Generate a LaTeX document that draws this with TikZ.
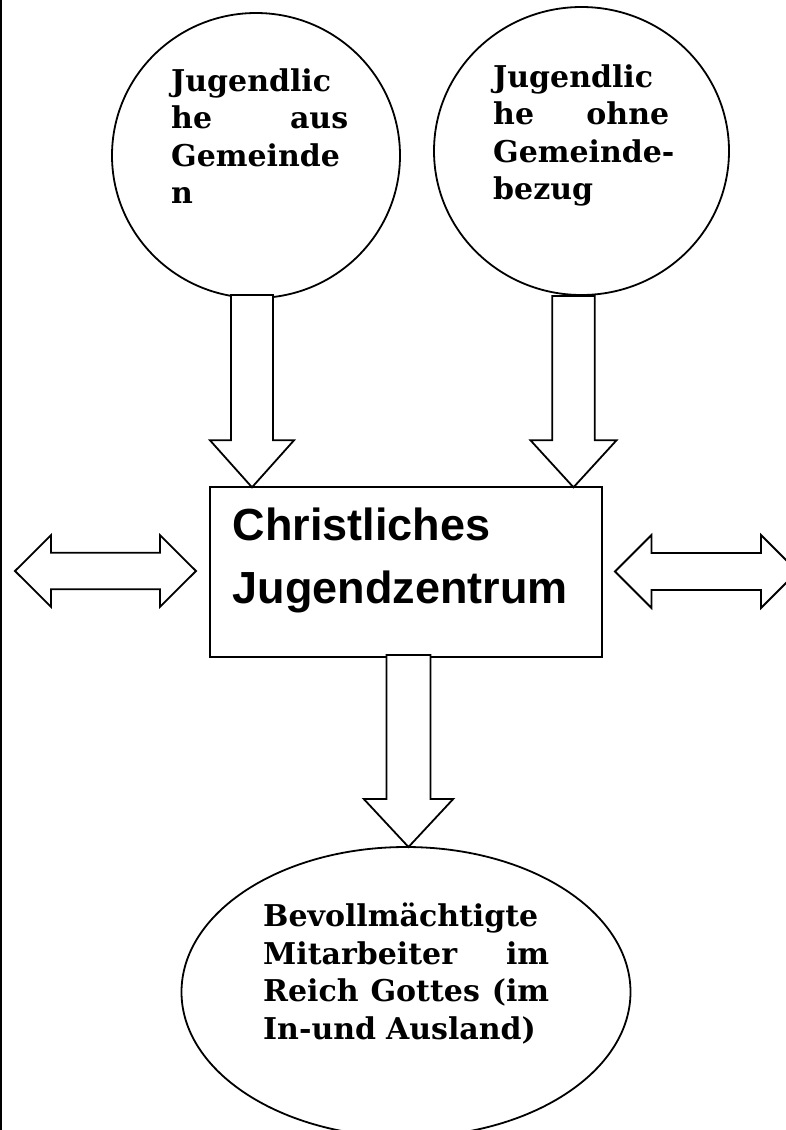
\documentclass[tikz,border=0pt]{standalone}
\usepackage{fontspec}
\setmainfont{DejaVu Serif}
\newfontfamily\boxfont{Liberation Sans}
\usetikzlibrary{shapes.geometric,calc}
\tikzset{
  outline/.style={draw=black, line width=1.8pt},
  roundshape/.style={outline, ellipse, inner sep=0pt, fill=white},
  sertext/.style={inner sep=0pt, anchor=base west, align=left,
    font=\bfseries\fontsize{30}{37.5}\selectfont},
  blk/.style={draw=black, line width=1.8pt, fill=white, line join=miter},
}
% downward block arrow: #1 tail, #2 tip, #3 half shaft, #4 half head, #5 head length
\newcommand{\blkdown}[5]{%
  \draw[blk] ($(#1)+(-#3,0)$) -- ($(#2)+(-#3,-#5)$) -- ($(#2)+(-#4,-#5)$) -- (#2)
    -- ($(#2)+(#4,-#5)$) -- ($(#2)+(#3,-#5)$) -- ($(#1)+(#3,0)$) -- cycle;}
% horizontal double block arrow: #1 left tip, #2 right tip, #3 half shaft, #4 half head, #5 head length
\newcommand{\blkdouble}[5]{%
  \draw[blk] (#1) -- ($(#1)+(#5,-#4)$) -- ($(#1)+(#5,-#3)$) -- ($(#2)+(-#5,-#3)$)
    -- ($(#2)+(-#5,-#4)$) -- (#2) -- ($(#2)+(-#5,#4)$) -- ($(#2)+(-#5,#3)$)
    -- ($(#1)+(#5,#3)$) -- ($(#1)+(#5,#4)$) -- cycle;}
\begin{document}
\begin{tikzpicture}[x=1pt,y=-1pt]
\useasboundingbox (0,0) rectangle (786,1130);
% left border line
\draw[line width=2pt] (1,0) -- (1,1130);
% shapes
\node[roundshape, minimum width=288pt, minimum height=285pt] (c1) at (256,155.5) {};
\node[roundshape, minimum width=295pt, minimum height=288pt] (c2) at (581.5,151) {};
\node[roundshape, minimum width=449pt, minimum height=290pt] (c3) at (406,992) {};
\node[outline, fill=white, inner sep=0pt, minimum width=392pt, minimum height=169.4pt] (box) at (406,572) {};
% arrow coordinates
\coordinate (a1s) at (252,295);
\coordinate (a1t) at (252,487.3);
\coordinate (a2s) at (573.5,296);
\coordinate (a2t) at (573.5,487.3);
\coordinate (a3s) at (408.5,655);
\coordinate (a3t) at (408.5,847);
\coordinate (lL) at (15,571);
\coordinate (lR) at (196,571);
\coordinate (rL) at (615,571.5);
\coordinate (rR) at (797.5,571.5);
\blkdown{a1s}{a1t}{21}{42}{47}
\blkdown{a2s}{a2t}{21.25}{43}{47}
\blkdown{a3s}{a3t}{22}{44.7}{48}
\blkdouble{lL}{lR}{18.2}{35.8}{36}
\blkdouble{rL}{rR}{18.5}{36.5}{36.5}
% texts
\node[sertext, text width=177pt] (t1) at (171,91)
  {\mbox{Jugendlic}\\he\hfill aus\\\mbox{Gemeinde}\\n};
\node[sertext, text width=176pt] (t2) at (493,87)
  {\mbox{Jugendlic}\\he\hfill ohne\\\mbox{Gemeinde-}\\bezug};
\node[sertext, text width=286pt] (t3) at (263,926.7)
  {\mbox{Bevollmächtigte}\\Mitarbeiter\hfill im\\Reich\hfill Gottes\hfill (im\\\mbox{In-und} Ausland)};
\node[inner sep=0pt, anchor=base west, align=left, text width=360pt,
  font=\boxfont\bfseries\fontsize{45}{63}\selectfont] (tb) at (232.5,540)
  {Christliches\\Jugendzentrum};
\end{tikzpicture}
\end{document}
